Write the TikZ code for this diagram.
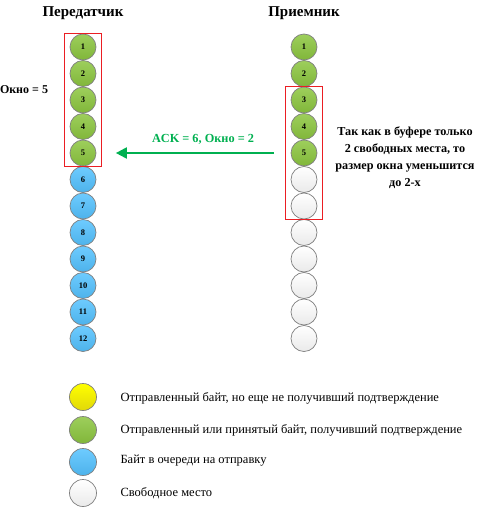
\documentclass[tikz,border=0pt]{standalone}
\usepackage{fontspec}
\setmainfont{Liberation Serif}
\usetikzlibrary{fit,arrows.meta}
\definecolor{gfill}{RGB}{140,198,63}
\definecolor{bfill}{RGB}{84,194,255}
\definecolor{wfill}{RGB}{246,246,246}
\definecolor{yfill}{RGB}{250,240,10}
\definecolor{ackgreen}{RGB}{0,176,80}
\definecolor{rbox}{RGB}{235,30,35}
\begin{document}
\begin{tikzpicture}[x=1pt,y=-1pt,
  byte/.style={circle,draw=black!50,line width=0.7pt,minimum size=26pt,inner sep=0pt,font=\fontsize{8.5}{9}\selectfont\bfseries},
  gbyte/.style={byte,top color=gfill!85!white,bottom color=gfill!92!black},
  bbyte/.style={byte,top color=bfill!85!white,bottom color=bfill!92!black},
  wbyte/.style={byte,top color=white,bottom color=wfill!95!black},
  ybyte/.style={byte,top color=yellow,bottom color=yfill!90!black,minimum size=27pt},
  lgbyte/.style={byte,minimum size=27pt},
  win/.style={draw=rbox,line width=1pt,inner xsep=5pt,inner ysep=0pt},
  title/.style={font=\fontsize{15}{17}\selectfont\bfseries},
  note/.style={font=\fontsize{12.2}{17}\selectfont\bfseries,align=center},
  leg/.style={font=\fontsize{12.5}{14}\selectfont,anchor=west},
  ack/.style={draw=ackgreen,line width=2pt,-{Triangle[length=11pt,width=11pt]}}
]
\useasboundingbox (0,0) rectangle (480,508);
\node[title] (tL) at (83,13) {Передатчик};
\node[title] (tR) at (304,13) {Приемник};
% sender
\foreach \i in {1,...,5}{\node[gbyte] (L\i) at (83,{47+(\i-1)*26.5}) {\i};}
\foreach \i in {6,...,12}{\node[bbyte] (L\i) at (83,{47+(\i-1)*26.5}) {\i};}
% receiver
\foreach \i in {1,...,5}{\node[gbyte] (R\i) at (304,{47+(\i-1)*26.5}) {\i};}
\foreach \i in {6,...,12}{\node[wbyte] (R\i) at (304,{47+(\i-1)*26.5}) {};}
\node[win,fit=(L1)(L5)] (lbox) {};
\node[win,fit=(R3)(R7)] (rboxn) {};
\node[font=\fontsize{12}{14}\selectfont\bfseries] (okno) at (24,90) {Окно = 5};
\coordinate (aS) at ([xshift=-11pt]rboxn.west |- L5);
\coordinate (aE) at ([xshift=14pt]lbox.east |- L5);
\draw[ack] (aS) -- (aE);
\node[font=\fontsize{12.3}{14}\selectfont\bfseries,text=ackgreen] (ackl) at (203,139) {ACK = 6, Окно = 2};
\node[note] (expl) at (405,158) {Так как в буфере только\\2 свободных места, то\\размер окна уменьшится\\до 2-х};
% legend
\node[ybyte] (cY) at (83,397) {};
\node[lgbyte,top color=gfill!85!white,bottom color=gfill!92!black] (cG) at (83,430) {};
\node[lgbyte,top color=bfill!85!white,bottom color=bfill!92!black] (cB) at (83,462) {};
\node[lgbyte,top color=white,bottom color=wfill!95!black] (cW) at (83,493) {};
\node[leg] (tY) at (117,398) {Отправленный байт, но еще не получивший подтверждение};
\node[leg] (tG) at (117,430) {Отправленный или принятый байт, получивший подтверждение};
\node[leg] (tB) at (117,461) {Байт в очереди на отправку};
\node[leg] (tW) at (117,493) {Свободное место};
\end{tikzpicture}
\end{document}
